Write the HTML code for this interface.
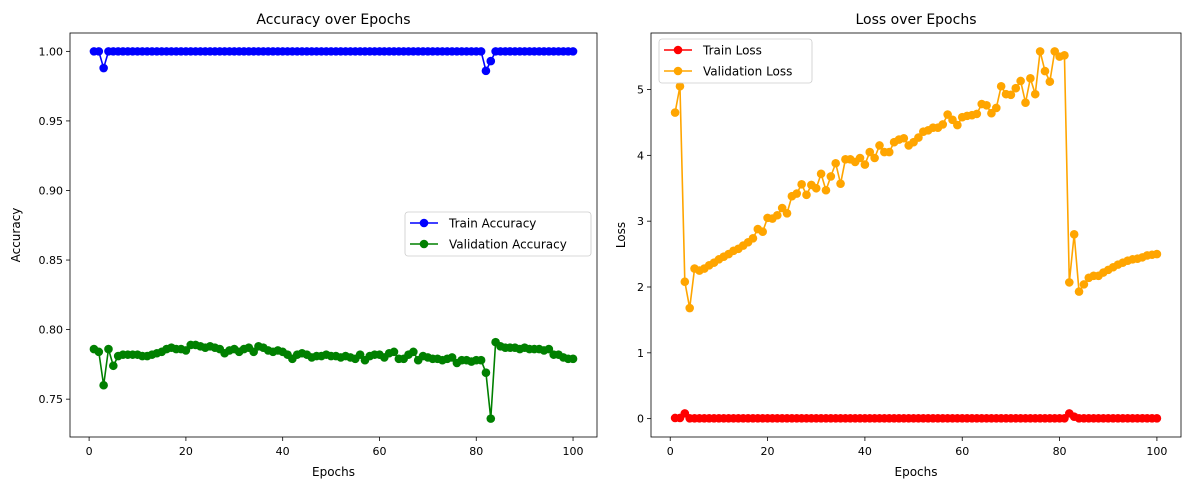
<!DOCTYPE html>
<html><head><meta charset="utf-8"><style>
body{margin:0;background:#fff;}
svg text{font-family:"DejaVu Sans","Liberation Sans",sans-serif;fill:#000;}
</style></head><body>
<svg id="s" width="1189" height="490" xmlns="http://www.w3.org/2000/svg"></svg>
<script>
const epochs = Array.from({length:100},(_,i)=>i+1);
const trainAcc = epochs.map(e=> e===3?0.988 : e===82?0.986 : e===83?0.993 : 1.0);
const valAcc = [.786,.784,.760,.786,.774,.781,.782,.782,.782,.782,.781,.781,.782,.783,.784,.786,.787,.786,.786,.785,.789,.789,.788,.787,.788,.787,.786,.783,.785,.786,.784,.786,.787,.784,.788,.787,.785,.784,.785,.784,.782,.779,.782,.783,.782,.780,.781,.781,.782,.781,.781,.780,.781,.780,.779,.782,.778,.781,.782,.782,.780,.783,.784,.779,.779,.782,.784,.778,.781,.780,.779,.779,.778,.779,.780,.776,.778,.778,.777,.778,.778,.769,.736,.791,.788,.787,.787,.787,.786,.787,.786,.786,.786,.785,.786,.782,.782,.780,.779,.779];
const trainLoss = epochs.map(e=> e===1?0.01 : e===2?0.01 : e===3?0.08 : e===82?0.08 : e===83?0.03 : 0.005);
const valLoss = [4.65,5.05,2.08,1.68,2.28,2.25,2.28,2.33,2.37,2.42,2.46,2.50,2.55,2.58,2.63,2.68,2.74,2.88,2.84,3.05,3.04,3.09,3.20,3.12,3.38,3.42,3.56,3.40,3.55,3.50,3.72,3.47,3.68,3.88,3.57,3.94,3.94,3.90,3.96,3.86,4.05,3.96,4.15,4.05,4.05,4.20,4.24,4.26,4.15,4.20,4.27,4.36,4.38,4.42,4.42,4.47,4.62,4.54,4.46,4.58,4.60,4.61,4.63,4.78,4.76,4.64,4.72,5.05,4.93,4.92,5.02,5.13,4.80,5.17,4.93,5.58,5.28,5.12,5.58,5.50,5.52,2.07,2.80,1.93,2.04,2.14,2.17,2.17,2.22,2.26,2.30,2.34,2.37,2.40,2.42,2.43,2.45,2.48,2.49,2.50];
const xTicks = [0,20,40,60,80,100];
const accTicks = [0.75,0.80,0.85,0.90,0.95,1.00];
const lossTicks = [0,1,2,3,4,5];

const NS="http://www.w3.org/2000/svg";
const svg=document.getElementById('s');
function el(tag,attrs,parent){const e=document.createElementNS(NS,tag);for(const k in attrs)e.setAttribute(k,attrs[k]);(parent||svg).appendChild(e);return e;}

function panel(o){
  const g=el('g',{});
  
  
  const sx=v=>o.x0+(v-o.xmin)/(o.xmax-o.xmin)*(o.x1-o.x0);
  const sy=v=>o.y1-(v-o.ymin)/(o.ymax-o.ymin)*(o.y1-o.y0);
  xTicks.forEach(t=>{
    const X=sx(t);
    el('line',{x1:X,x2:X,y1:o.y1,y2:o.y1+4,stroke:'#000','stroke-width':0.8},g);
    const tx=el('text',{x:X,y:o.y1+18,'font-size':11,'text-anchor':'middle'},g);tx.textContent=t;
    
    
  });
  o.yTicks.forEach(t=>{
    const Y=sy(t);
    el('line',{x1:o.x0-4,x2:o.x0,y1:Y,y2:Y,stroke:'#000','stroke-width':0.8},g);
    const tx=el('text',{x:o.x0-7,y:Y+4,'font-size':11,'text-anchor':'end'},g);tx.textContent=o.fmt(t);
    
    
  });
  o.series.forEach(s=>{
    const sg=el('g',{},g);
    
    
    el('polyline',{points:s.data.map((v,i)=>sx(epochs[i])+','+sy(v)).join(' '),fill:'none',stroke:s.color,'stroke-width':1.6},sg);
    s.data.forEach((v,i)=>{const c=el('circle',{cx:sx(epochs[i]),cy:sy(v),r:4.3,fill:s.color},sg);
      
      });
  });
  el('rect',{x:o.x0,y:o.y0,width:o.x1-o.x0,height:o.y1-o.y0,fill:'none',stroke:'#000','stroke-width':0.8},g);
  const t=el('text',{x:(o.x0+o.x1)/2,y:o.y0-9,'font-size':14,'text-anchor':'middle'},g);t.textContent=o.title;
  
  const xl=el('text',{x:(o.x0+o.x1)/2,y:476,'font-size':12,'text-anchor':'middle'},g);xl.textContent='Epochs';
  
  const yl=el('text',{x:0,y:0,'font-size':12,'text-anchor':'middle',transform:`translate(${o.ylx},${(o.y0+o.y1)/2}) rotate(-90)`},g);yl.textContent=o.ylabel;
  
  const L=o.legend;
  const lg=el('g',{},g);
  
  el('rect',{x:L.x,y:L.y,width:L.w,height:44,rx:3,fill:'#fff','fill-opacity':0.8,stroke:'#ccc','stroke-width':0.8},lg);
  o.series.forEach((s,i)=>{
    const Y=L.y+11+i*21;
    const eg=el('g',{},lg);
    
    el('line',{x1:L.x+5,x2:L.x+33,y1:Y,y2:Y,stroke:s.color,'stroke-width':1.6},eg);
    el('circle',{cx:L.x+19,cy:Y,r:4.3,fill:s.color},eg);
    const tx=el('text',{x:L.x+44,y:Y+4.5,'font-size':12},eg);tx.textContent=s.label;
  });
}
panel({name:'accuracy-chart',x0:70,x1:597,y0:33,y1:437,xmin:-3.95,xmax:104.95,ymin:0.7228,ymax:1.0132,
  yTicks:accTicks,fmt:t=>t.toFixed(2),title:'Accuracy over Epochs',ylabel:'Accuracy',ylx:20,
  legend:{x:405,y:212,w:186},
  series:[{name:'train-accuracy-line',label:'Train Accuracy',color:'#0000ff',data:trainAcc},
          {name:'validation-accuracy-line',label:'Validation Accuracy',color:'#008000',data:valAcc}]});
panel({name:'loss-chart',x0:651,x1:1181,y0:33,y1:437,xmin:-3.95,xmax:104.95,ymin:-0.279,ymax:5.859,
  yTicks:lossTicks,fmt:t=>String(t),title:'Loss over Epochs',ylabel:'Loss',ylx:625,
  legend:{x:659,y:39,w:153},
  series:[{name:'train-loss-line',label:'Train Loss',color:'#ff0000',data:trainLoss},
          {name:'validation-loss-line',label:'Validation Loss',color:'#ffa500',data:valLoss}]});
</script>
</body></html>
